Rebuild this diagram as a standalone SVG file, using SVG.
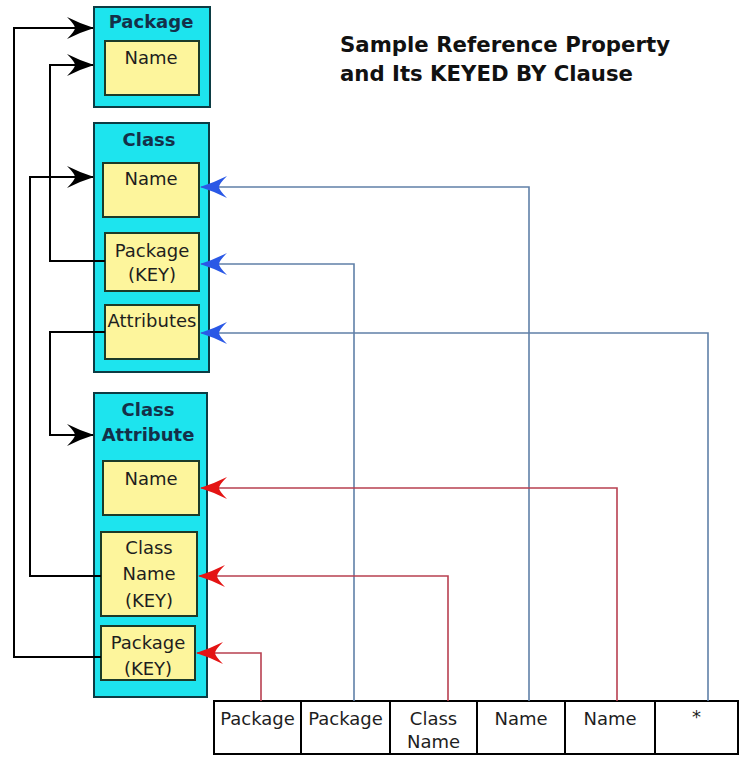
<svg xmlns="http://www.w3.org/2000/svg" width="748" height="758" viewBox="0 0 748 758">
<style>
.ent{fill:#1de4ee;stroke:#0c3c44;stroke-width:2}
.fld{fill:#fdf59c;stroke:#1c3a28;stroke-width:2}
.ttl{font-family:"DejaVu Sans",sans-serif;font-weight:bold;font-size:18px;fill:#143049;text-anchor:middle}
.txt{font-family:"DejaVu Sans",sans-serif;font-size:18px;fill:#1e1e1e;text-anchor:middle}
.hdr{font-family:"DejaVu Sans",sans-serif;font-weight:bold;font-size:21px;fill:#111}
.cell{fill:#fff;stroke:#000;stroke-width:2}
.k{fill:none;stroke:#000;stroke-width:2}
.b{fill:none;stroke:#6080a8;stroke-width:1.6}
.r{fill:none;stroke:#b84050;stroke-width:1.6}
</style>
<defs>
<marker id="ak" markerUnits="userSpaceOnUse" markerWidth="30" markerHeight="26" viewBox="-28 -13 30 26" refX="0" refY="0" orient="auto">
<path d="M1,0 Q-12,-4 -26,-11 Q-18,-3 -18,0 Q-18,3 -26,11 Q-12,4 1,0 Z" fill="#000"/>
</marker>
<marker id="ab" markerUnits="userSpaceOnUse" markerWidth="30" markerHeight="26" viewBox="-28 -13 30 26" refX="0" refY="0" orient="auto">
<path d="M1,0 Q-12,-4 -26,-11 Q-18,-3 -18,0 Q-18,3 -26,11 Q-12,4 1,0 Z" fill="#2a58e6"/>
</marker>
<marker id="ar" markerUnits="userSpaceOnUse" markerWidth="30" markerHeight="26" viewBox="-28 -13 30 26" refX="0" refY="0" orient="auto">
<path d="M1,0 Q-12,-4 -26,-11 Q-18,-3 -18,0 Q-18,3 -26,11 Q-12,4 1,0 Z" fill="#e41414"/>
</marker>
</defs>
<rect width="748" height="758" fill="#fff"/>

<g id="title">
<text class="hdr" x="340" y="52" textLength="330" lengthAdjust="spacingAndGlyphs">Sample Reference Property</text>
<text class="hdr" x="340" y="81" textLength="293" lengthAdjust="spacingAndGlyphs">and Its KEYED BY Clause</text>
</g>

<g id="package">
<rect class="ent" x="94" y="7" width="116" height="100"/>
<text class="ttl" x="151" y="28">Package</text>
<g id="package-name">
<rect class="fld" x="105" y="41" width="94" height="54"/>
<text class="txt" x="151" y="64">Name</text>
</g>
</g>

<g id="class">
<rect class="ent" x="94" y="123" width="115" height="249"/>
<text class="ttl" x="149" y="146">Class</text>
<g id="class-name">
<rect class="fld" x="103" y="163" width="96" height="54"/>
<text class="txt" x="151" y="185">Name</text>
</g>
<g id="class-package">
<rect class="fld" x="105" y="233" width="94" height="58"/>
<text class="txt" x="152" y="257">Package</text>
<text class="txt" x="152" y="281">(KEY)</text>
</g>
<g id="class-attributes">
<rect class="fld" x="105" y="305" width="94" height="54"/>
<text class="txt" x="152" y="327">Attributes</text>
</g>
</g>

<g id="class-attribute">
<rect class="ent" x="94" y="393" width="113" height="304"/>
<text class="ttl" x="148" y="416">Class</text>
<text class="ttl" x="148" y="441">Attribute</text>
<g id="ca-name">
<rect class="fld" x="103" y="461" width="96" height="54"/>
<text class="txt" x="151" y="485">Name</text>
</g>
<g id="ca-classname">
<rect class="fld" x="101" y="532" width="96" height="84"/>
<text class="txt" x="149" y="554">Class</text>
<text class="txt" x="149" y="580">Name</text>
<text class="txt" x="149" y="607">(KEY)</text>
</g>
<g id="ca-package">
<rect class="fld" x="101" y="626" width="94" height="54"/>
<text class="txt" x="148" y="649">Package</text>
<text class="txt" x="148" y="675">(KEY)</text>
</g>
</g>

<g id="keytable">
<rect class="cell" x="214" y="701" width="87" height="53"/>
<rect class="cell" x="301" y="701" width="89" height="53"/>
<rect class="cell" x="390" y="701" width="87" height="53"/>
<rect class="cell" x="477" y="701" width="88" height="53"/>
<rect class="cell" x="565" y="701" width="90" height="53"/>
<rect class="cell" x="655" y="701" width="83" height="53"/>
<text class="txt" x="257.5" y="725">Package</text>
<text class="txt" x="345.5" y="725">Package</text>
<text class="txt" x="433.5" y="725">Class</text>
<text class="txt" x="433.5" y="748">Name</text>
<text class="txt" x="521" y="725">Name</text>
<text class="txt" x="610" y="725">Name</text>
<text class="txt" x="696.5" y="723">*</text>
</g>

<g id="connectors">
<path class="k" d="M101,657 H14 V28 H93" marker-end="url(#ak)"/>
<path class="k" d="M105,261 H50 V65 H93" marker-end="url(#ak)"/>
<path class="k" d="M101,576 H30 V177 H93" marker-end="url(#ak)"/>
<path class="k" d="M105,332 H50 V435 H93" marker-end="url(#ak)"/>
<path class="b" d="M529,701 V187 H201" marker-end="url(#ab)"/>
<path class="b" d="M354,701 V264 H201" marker-end="url(#ab)"/>
<path class="b" d="M708,701 V333 H201" marker-end="url(#ab)"/>
<path class="r" d="M617,701 V488 H201" marker-end="url(#ar)"/>
<path class="r" d="M448,701 V576 H199" marker-end="url(#ar)"/>
<path class="r" d="M261,701 V653 H197" marker-end="url(#ar)"/>
</g>
</svg>
